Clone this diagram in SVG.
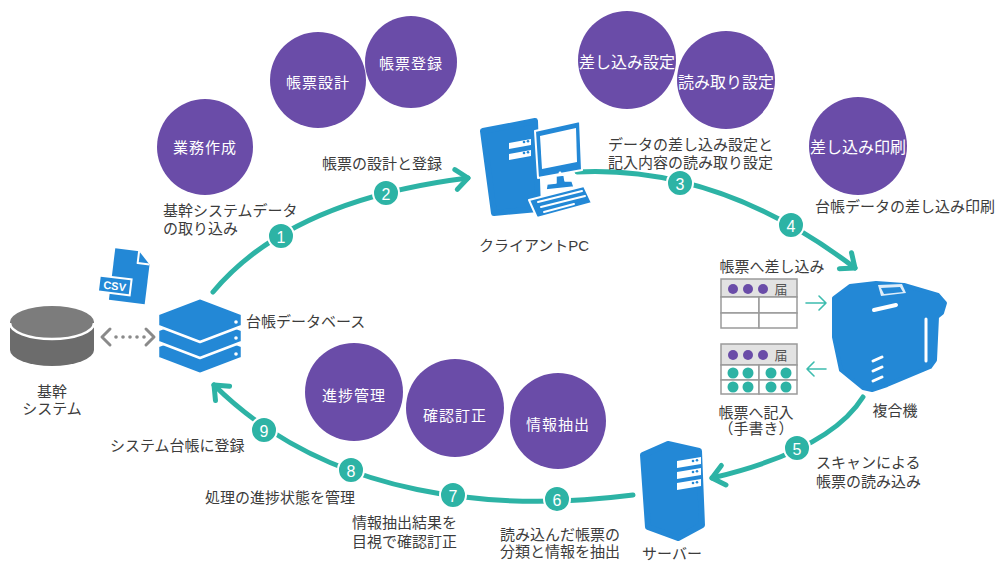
<svg xmlns="http://www.w3.org/2000/svg" width="997" height="563" viewBox="0 0 997 563">
  <defs>
    <style>
      text { font-family: "Liberation Sans", "Noto Sans CJK JP", sans-serif; }
      .lbl { font-size: 15px; fill: #3c3c3c; }
      .mid { text-anchor: middle; }
      .bub { fill: #6a4ca8; }
      .bubtxt { font-size: 15px; fill: #ffffff; text-anchor: middle; dominant-baseline: central; letter-spacing: 1px; }
      .bubtxt6 { font-size: 16px; fill: #ffffff; text-anchor: middle; dominant-baseline: central; }
      .flow { fill: none; stroke: #2db3a5; stroke-width: 5; stroke-linecap: round; }
      .num circle { fill: #2db3a5; stroke: #ffffff; stroke-width: 2; }
      .num text { font-size: 16px; fill: #ffffff; text-anchor: middle; dominant-baseline: central; }
      .blue { fill: #2388d6; }
      .wline { stroke: #ffffff; stroke-linecap: round; fill: none; }
      .cell { fill: #ffffff; stroke: #9a9a9a; stroke-width: 1.5; }
      .head { fill: #e2e2e2; stroke: #9a9a9a; stroke-width: 1.5; }
      .pdot { fill: #6a4ca8; }
      .tdot { fill: #2db3a5; }
      .thin { fill: none; stroke: #3dbcae; stroke-width: 1.6; stroke-linecap: round; stroke-linejoin: round; }
    </style>
    <marker id="chev" markerUnits="userSpaceOnUse" viewBox="0 0 22 26" markerWidth="22" markerHeight="26" refX="18" refY="13" orient="auto">
      <path d="M6,3 L18,13 L6,23" fill="none" stroke="#2db3a5" stroke-width="5" stroke-linecap="round" stroke-linejoin="round"/>
    </marker>
  </defs>

  <rect width="997" height="563" fill="#ffffff"/>

  <!-- process cycle -->
  <g id="connectors">
    <path class="flow" d="M213,292 Q290,200 468,178" marker-end="url(#chev)"/>
    <path class="flow" d="M577,172 Q720,165 855,268" marker-end="url(#chev)"/>
    <path class="flow" d="M863,397 Q830,450 712,478" marker-end="url(#chev)"/>
    <path class="flow" d="M633,495 C500,512 330,500 214,385" marker-end="url(#chev)"/>
    <!-- dotted link between core system and ledger DB -->
    <g fill="none" stroke="#8a8a8a" stroke-width="3" stroke-linecap="round" stroke-linejoin="round">
      <path d="M110,329 L102,337 L110,345"/>
      <path d="M146,329 L154,337 L146,345"/>
    </g>
    <g fill="#8a8a8a">
      <circle cx="116" cy="337" r="1.8"/>
      <circle cx="123" cy="337" r="1.8"/>
      <circle cx="130" cy="337" r="1.8"/>
      <circle cx="137" cy="337" r="1.8"/>
      <circle cx="144" cy="337" r="1.8"/>
    </g>
  </g>

  <!-- step numbers -->
  <g id="steps" class="num">
    <g id="step1"><circle cx="281" cy="236" r="13"/><text x="281" y="237">1</text></g>
    <g id="step2"><circle cx="386" cy="193" r="13"/><text x="386" y="194">2</text></g>
    <g id="step3"><circle cx="680" cy="183" r="13"/><text x="680" y="184">3</text></g>
    <g id="step4"><circle cx="791" cy="225" r="13"/><text x="791" y="226">4</text></g>
    <g id="step5"><circle cx="797" cy="448" r="13"/><text x="797" y="449">5</text></g>
    <g id="step6"><circle cx="557" cy="499" r="13"/><text x="557" y="500">6</text></g>
    <g id="step7"><circle cx="453" cy="495" r="13"/><text x="453" y="496">7</text></g>
    <g id="step8"><circle cx="351" cy="470" r="13"/><text x="351" y="471">8</text></g>
    <g id="step9"><circle cx="264" cy="430" r="13"/><text x="264" y="431">9</text></g>
  </g>

  <!-- task bubbles -->
  <g id="bubble-gyomu"><circle class="bub" cx="205" cy="147" r="48"/><text class="bubtxt" x="205" y="147">業務作成</text></g>
  <g id="bubble-sekkei"><circle class="bub" cx="318" cy="80" r="48"/><text class="bubtxt" x="318" y="82">帳票設計</text></g>
  <g id="bubble-toroku"><circle class="bub" cx="411" cy="62" r="46"/><text class="bubtxt" x="411" y="63">帳票登録</text></g>
  <g id="bubble-sashikomi"><circle class="bub" cx="627" cy="60" r="49"/><text class="bubtxt6" x="627" y="62">差し込み設定</text></g>
  <g id="bubble-yomitori"><circle class="bub" cx="726" cy="80" r="49"/><text class="bubtxt6" x="726" y="82">読み取り設定</text></g>
  <g id="bubble-insatsu"><circle class="bub" cx="858" cy="146" r="49"/><text class="bubtxt6" x="858" y="147">差し込み印刷</text></g>
  <g id="bubble-shincho"><circle class="bub" cx="354" cy="392" r="49"/><text class="bubtxt" x="354" y="395">進捗管理</text></g>
  <g id="bubble-kakunin"><circle class="bub" cx="455" cy="408" r="49"/><text class="bubtxt" x="455" y="415">確認訂正</text></g>
  <g id="bubble-chushutsu"><circle class="bub" cx="558" cy="421" r="48"/><text class="bubtxt" x="558" y="424">情報抽出</text></g>

  <!-- core system (cylinder) -->
  <g id="core-system">
    <path d="M10,322 L10,350 A42,16 0 0 0 94,350 L94,322 Z" fill="#6c6c6c"/>
    <ellipse cx="52" cy="322" rx="42" ry="16" fill="#7c7c7c"/>
    <path d="M10,323 A42,16 0 0 0 94,323" fill="none" stroke="#ffffff" stroke-width="2.5"/>
    <text class="lbl mid" x="52" y="397">基幹</text>
    <text class="lbl mid" x="52" y="414">システム</text>
  </g>

  <!-- CSV file -->
  <g id="csv-file" transform="rotate(7 128 276)">
    <path class="blue" d="M112,250 L136,250 L148,262 L148,302 L112,302 Z"/>
    <path d="M136,250 L136,262 L148,262" fill="none" stroke="#ffffff" stroke-width="2" stroke-linejoin="round"/>
    <rect x="100" y="279" width="32" height="16" fill="#2388d6" stroke="#ffffff" stroke-width="2"/>
    <text x="116" y="291.5" font-size="11" font-weight="bold" fill="#ffffff" text-anchor="middle">CSV</text>
  </g>

  <!-- ledger database -->
  <g id="ledger-db">
    <g class="blue" stroke="#ffffff" stroke-width="2.5" stroke-linejoin="round">
      <path d="M158,346 L200,330 L242,346 L242,358 L200,374 L158,358 Z"/>
      <path d="M158,330 L200,314 L242,330 L242,342 L200,358 L158,342 Z"/>
      <path d="M158,314 L200,298 L242,314 L242,326 L200,342 L158,326 Z"/>
    </g>
    <g fill="#ffffff">
      <circle cx="236" cy="322" r="1.8"/>
      <circle cx="236" cy="338" r="1.8"/>
      <circle cx="236" cy="354" r="1.8"/>
    </g>
    <text class="lbl" x="246" y="327">台帳データベース</text>
  </g>

  <!-- client PC -->
  <g id="client-pc">
    <path class="blue" stroke="#2388d6" stroke-width="6" stroke-linejoin="round" d="M483,131 L535,121 L538,209 L494,213 Z"/>
    <g fill="#ffffff">
      <path d="M509,143 L531,139 L531,145 L509,149 Z"/>
      <path d="M509,154 L531,150 L531,156 L509,160 Z"/>
    </g>
    <g fill="#2388d6">
      <circle cx="524" cy="142" r="1.3"/><circle cx="528" cy="141.3" r="1.3"/>
      <circle cx="524" cy="153" r="1.3"/><circle cx="528" cy="152.3" r="1.3"/>
    </g>
    <path d="M535,131 L580,121 L582,170 L538,178 Z" fill="#2388d6" stroke="#ffffff" stroke-width="2" stroke-linejoin="round"/>
    <path d="M540,136 L576,128 L577,162 L542,169 Z" fill="#ffffff"/>
    <circle cx="560" cy="173" r="1.4" fill="#ffffff"/>
    <path d="M556,176 L564,175 L565,181 L572,181 L574,187 L546,190 L547,184 L556,183 Z" fill="#2388d6" stroke="#ffffff" stroke-width="1.5" stroke-linejoin="round"/>
    <path d="M529,200 L584,186 L592,203 L537,218 Z" fill="#2388d6" stroke="#ffffff" stroke-width="2" stroke-linejoin="round"/>
    <g class="wline" stroke-width="2">
      <path d="M538,202 L582,191"/>
      <path d="M541,207 L585,196"/>
      <path d="M544,212 L574,204"/>
    </g>
    <text class="lbl mid" x="534" y="251">クライアントPC</text>
  </g>

  <!-- multifunction printer -->
  <g id="mfp">
    <path class="blue" stroke="#2388d6" stroke-width="4" stroke-linejoin="round" d="M834,298 L850,286 L876,283 L904,285 L921,290 L938,295 L945,303 L942,313 L937,317 L935,360 L930,367 L887,385 L872,390 L863,388 L841,370 L834,337 Z"/>
    <path d="M878,285 L902,284 L906,293 L881,296 Z" fill="#ffffff" opacity="0.85"/>
    <path d="M881,288 L900,287 L903,292 L884,294 Z" fill="#2388d6"/>
    <g class="wline">
      <path d="M874,310 L896,305" stroke-width="4"/>
      <path d="M926,319 L926,361" stroke-width="3"/>
      <path d="M873,361 L882,357" stroke-width="3"/>
      <path d="M873,371 L882,367" stroke-width="3"/>
      <path d="M873,381 L882,377" stroke-width="3"/>
    </g>
    <text class="lbl mid" x="895" y="416">複合機</text>
  </g>

  <!-- form to be printed -->
  <g id="form-print">
    <text class="lbl mid" x="772" y="272">帳票へ差し込み</text>
    <rect class="head" x="721" y="279" width="76" height="18"/>
    <rect class="cell" x="721" y="297" width="38" height="16"/>
    <rect class="cell" x="759" y="297" width="38" height="16"/>
    <rect class="cell" x="721" y="313" width="38" height="15"/>
    <rect class="cell" x="759" y="313" width="38" height="15"/>
    <circle class="pdot" cx="733" cy="289" r="5"/>
    <circle class="pdot" cx="748" cy="289" r="5"/>
    <circle class="pdot" cx="763" cy="289" r="5"/>
    <text x="781" y="294" font-size="13" fill="#555555" text-anchor="middle">届</text>
    <path class="thin" d="M806,303 L826,303 M819,296 L826,303 L819,310"/>
  </g>

  <!-- handwritten form -->
  <g id="form-written">
    <rect class="head" x="721" y="344" width="76" height="21"/>
    <rect class="cell" x="721" y="365" width="38" height="15"/>
    <rect class="cell" x="759" y="365" width="38" height="15"/>
    <rect class="cell" x="721" y="380" width="38" height="14"/>
    <rect class="cell" x="759" y="380" width="38" height="14"/>
    <circle class="pdot" cx="733" cy="355" r="5"/>
    <circle class="pdot" cx="748" cy="355" r="5"/>
    <circle class="pdot" cx="763" cy="355" r="5"/>
    <text x="781" y="360" font-size="13" fill="#555555" text-anchor="middle">届</text>
    <g class="tdot">
      <circle cx="733" cy="373" r="5.5"/><circle cx="748" cy="373" r="5.5"/>
      <circle cx="771" cy="373" r="5.5"/><circle cx="786" cy="373" r="5.5"/>
      <circle cx="733" cy="387" r="5.5"/><circle cx="748" cy="387" r="5.5"/>
      <circle cx="771" cy="387" r="5.5"/><circle cx="786" cy="387" r="5.5"/>
    </g>
    <path class="thin" d="M826,369 L807,369 M814,362 L807,369 L814,376"/>
    <text class="lbl mid" x="756" y="418">帳票へ記入</text>
    <text class="lbl mid" x="756" y="434">（手書き）</text>
  </g>

  <!-- server -->
  <g id="server">
    <path class="blue" stroke="#2388d6" stroke-width="6" stroke-linejoin="round" d="M643,455 L668,444 L699,451 L702,525 L678,538 L648,527 Z"/>
    <g fill="#ffffff">
      <path d="M677,461 L701,457 L701,464 L677,468 Z"/>
      <path d="M677,472 L701,468 L701,475 L677,479 Z"/>
      <path d="M677,483 L701,479 L701,486 L677,490 Z"/>
    </g>
    <g fill="#2388d6">
      <circle cx="693" cy="461" r="1.3"/><circle cx="697" cy="460.3" r="1.3"/>
      <circle cx="693" cy="472" r="1.3"/><circle cx="697" cy="471.3" r="1.3"/>
      <circle cx="693" cy="483" r="1.3"/><circle cx="697" cy="482.3" r="1.3"/>
    </g>
    <text class="lbl mid" x="672" y="559">サーバー</text>
  </g>

  <!-- step descriptions -->
  <g id="captions">
    <text class="lbl" x="163" y="216">基幹システムデータ</text>
    <text class="lbl" x="163" y="234">の取り込み</text>
    <text class="lbl" x="322" y="169">帳票の設計と登録</text>
    <text class="lbl" x="608" y="150">データの差し込み設定と</text>
    <text class="lbl" x="608" y="168">記入内容の読み取り設定</text>
    <text class="lbl" x="815" y="212">台帳データの差し込み印刷</text>
    <text class="lbl" x="816" y="468">スキャンによる</text>
    <text class="lbl" x="816" y="487">帳票の読み込み</text>
    <text class="lbl mid" x="560" y="540">読み込んだ帳票の</text>
    <text class="lbl mid" x="560" y="557">分類と情報を抽出</text>
    <text class="lbl" x="352" y="528">情報抽出結果を</text>
    <text class="lbl" x="352" y="547">目視で確認訂正</text>
    <text class="lbl" x="205" y="503">処理の進捗状態を管理</text>
    <text class="lbl" x="110" y="451">システム台帳に登録</text>
  </g>
</svg>
